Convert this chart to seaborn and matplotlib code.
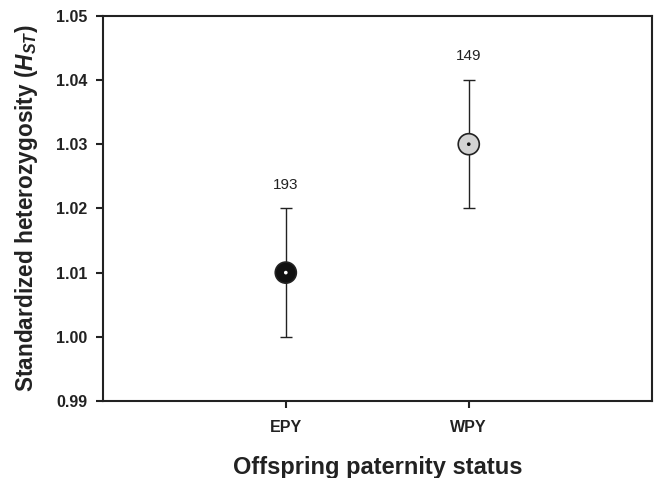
import matplotlib
matplotlib.use('Agg')
from matplotlib import pyplot as plt
import pandas as pd
import seaborn as sns

# offspring paternity status, mean standardized heterozygosity, error, sample size
status = ['EPY', 'WPY']
hst_mean = [1.01, 1.03]
hst_err = [0.01, 0.01]
n_offspring = [193, 149]
point_colors = ['#111111', '#d3d3d3']
center_colors = ['white', '#111111']

df = pd.DataFrame({'status': status, 'hst': hst_mean, 'err': hst_err, 'n': n_offspring})

sns.set_style('ticks')
plt.rcParams['font.family'] = ['Liberation Sans', 'DejaVu Sans']
plt.rcParams['mathtext.fontset'] = 'custom'
plt.rcParams['mathtext.it'] = 'Liberation Sans:bold:italic'
plt.rcParams['mathtext.rm'] = 'Liberation Sans:bold'

fig = plt.figure(figsize=(6.55, 4.78), dpi=100)
ax = fig.add_axes([0.157, 0.161, 0.838, 0.806])

ax.errorbar(df['status'], df['hst'], yerr=df['err'], fmt='none', ecolor='#222222',
            elinewidth=1.0, capsize=4.3, capthick=1.0, zorder=1)
sns.scatterplot(data=df, x='status', y='hst', hue='status', palette=point_colors,
                s=230, edgecolor='#222222', linewidth=1.2, legend=False, ax=ax, zorder=2)
sns.scatterplot(data=df, x='status', y='hst', hue='status', palette=center_colors,
                s=7, linewidth=0, legend=False, ax=ax, zorder=3)

for i, row in df.iterrows():
    ax.text(i, row['hst'] + row['err'] + 0.0026, str(row['n']), ha='center',
            va='bottom', fontsize=11, color='#222222')

ax.set_xlim(-1, 2)
ax.set_ylim(0.99, 1.05)
ax.set_yticks([0.99, 1.00, 1.01, 1.02, 1.03, 1.04, 1.05])
ax.set_yticklabels(['0.99', '1.00', '1.01', '1.02', '1.03', '1.04', '1.05'])
ax.set_xlabel('Offspring paternity status', fontsize=17, fontweight='bold',
              color='#222222', labelpad=15)
ax.set_ylabel(r'Standardized heterozygosity ($\mathit{H}_{\mathit{ST}}$)', fontsize=16.3,
              fontweight='bold', color='#222222', labelpad=12)
ax.tick_params(axis='both', direction='out', length=5, width=1.5, labelsize=11.5,
               colors='#222222')
ax.tick_params(axis='x', pad=9)
ax.tick_params(axis='y', pad=6)
for lab in ax.get_xticklabels() + ax.get_yticklabels():
    lab.set_fontweight('bold')
for sp in ax.spines.values():
    sp.set_visible(True)
    sp.set_linewidth(1.5)
    sp.set_color('#222222')

fig.savefig('out.png', dpi=100)
